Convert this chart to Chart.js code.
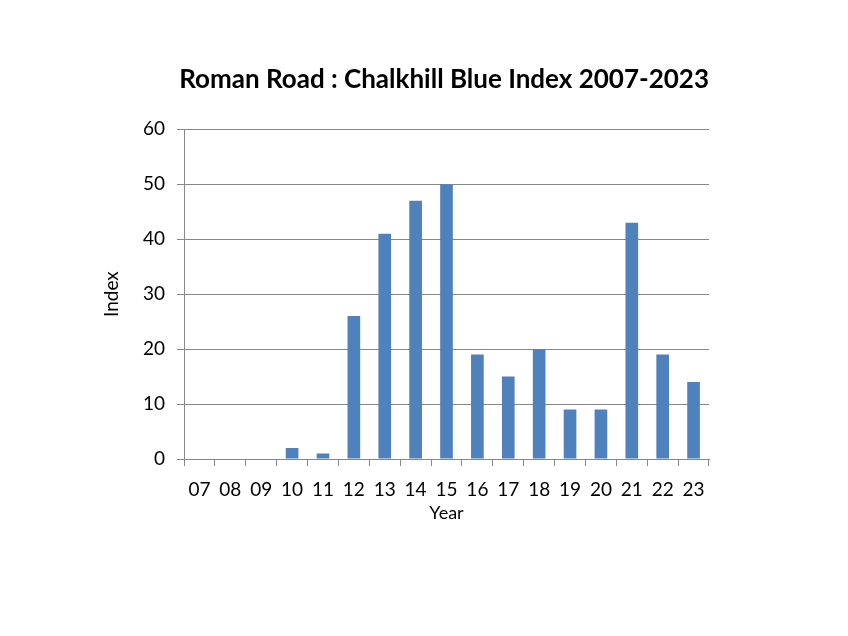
<!DOCTYPE html>
<html>
<head>
<meta charset="utf-8">
<script src="https://cdn.jsdelivr.net/npm/chart.js@4"></script>
<style>
  html, body { margin: 0; padding: 0; background: #fff; }
  #c { display: block; }
</style>
</head>
<body>
<canvas id="c" width="848" height="636"></canvas>
<script>
const BAR  = '#4F81BD';
const LINE = '#888888';
const FONT = 'Lato';

const years  = ['07','08','09','10','11','12','13','14','15','16','17','18','19','20','21','22','23'];
const index  = [0, 0, 0, 2, 1, 26, 41, 47, 50, 19, 15, 20, 9, 9, 43, 19, 14];
const yTicks = [0, 10, 20, 30, 40, 50, 60];

new Chart(document.getElementById('c'), {
  type: 'bar',
  data: { labels: years, datasets: [{ label: 'Index', data: index, backgroundColor: BAR, barPercentage: 0.41, categoryPercentage: 1 }] },
  options: {
    responsive: false, animation: false,
    layout: { padding: { top: 64, left: 92, right: 139, bottom: 112 } },
    plugins: {
      legend: { display: false }, tooltip: { enabled: false },
      title: { display: true, align: 'end', text: 'Roman Road : Chalkhill Blue Index 2007-2023', color: '#000', font: { family: FONT, size: 26, weight: 'bold' }, padding: { top: 0, bottom: 34 } }
    },
    scales: {
      x: {
        grid: { offset: true, drawOnChartArea: false, tickLength: 7, color: LINE },
        border: { color: LINE },
        ticks: { color: '#000', font: { family: FONT, size: 19 }, padding: 12, maxRotation: 0, autoSkip: false },
        title: { display: true, text: 'Year', color: '#000', font: { family: FONT, size: 18 }, padding: { top: 0, bottom: 0 } },
        afterFit: (s) => { s.height = 65; }
      },
      y: {
        min: 0, max: 60,
        afterBuildTicks: (s) => { s.ticks = yTicks.map(v => ({ value: v })); },
        grid: { color: LINE, tickLength: 7 },
        border: { color: LINE },
        ticks: { color: '#000', font: { family: FONT, size: 19 }, padding: 12 },
        title: { display: true, text: 'Index', color: '#000', font: { family: FONT, size: 19 }, padding: { top: 8, bottom: 0 } },
        afterFit: (s) => { s.width = 92; }
      }
    }
  }
});
</script>
</body>
</html>
